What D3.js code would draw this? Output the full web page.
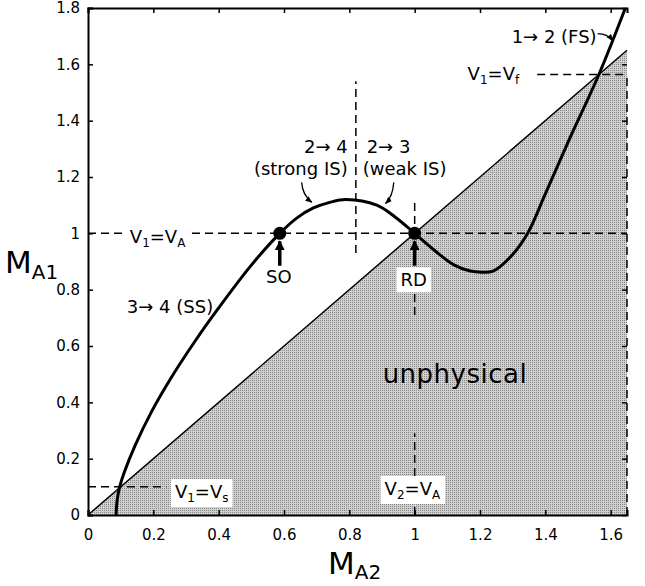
<!DOCTYPE html>
<html>
<head>
<meta charset="utf-8">
<script src="https://cdn.jsdelivr.net/npm/d3@7"></script>
<style>
  body { margin: 0; background: #fff; }
  svg text { font-family: "DejaVu Sans", sans-serif; fill: #000; }
</style>
</head>
<body>
<svg id="chart" width="645" height="586"></svg>
<script>
// shock curve M_A1 vs M_A2
var curveX = [0.086, 0.089, 0.097, 0.11, 0.144, 0.195, 0.256, 0.327, 0.40, 0.50, 0.587, 0.64,
              0.69, 0.74, 0.79, 0.884, 0.94, 1.0, 1.06, 1.12, 1.17, 1.205, 1.24, 1.30, 1.346,
              1.40, 1.47, 1.564, 1.645];
var curveY = [0, 0.05, 0.10, 0.148, 0.246, 0.368, 0.49, 0.616, 0.735, 0.887, 1.0, 1.055,
              1.09, 1.11, 1.12, 1.10, 1.058, 1.0, 0.94, 0.888, 0.866, 0.862, 0.866, 0.925, 1.0,
              1.14, 1.325, 1.564, 1.80];

// unphysical region lies under M_A1 = M_A2
var diagX = [0, 1.65];

var xTicks = [0, 0.2, 0.4, 0.6, 0.8, 1, 1.2, 1.4, 1.6];
var yTicks = [0, 0.2, 0.4, 0.6, 0.8, 1, 1.2, 1.4, 1.6, 1.8];

var points = [{name: "SO", x: 0.587, y: 1}, {name: "RD", x: 1, y: 1}];
var vSlow = 0.1, vFast = 1.564, vAlf = 1, isSplit = 0.82;

var margin = {top: 8, right: 18, bottom: 71, left: 88},
    width = 645 - margin.left - margin.right,
    height = 586 - margin.top - margin.bottom;

var svg = d3.select("#chart"),
    g = svg.append("g").attr("transform", "translate(" + margin.left + "," + margin.top + ")");

var x = d3.scaleLinear().domain([0, 1.65]).range([0, width]);
var y = d3.scaleLinear().domain([0, 1.8]).range([height, 0]);

var defs = svg.append("defs");
var pat = defs.append("pattern").attr("id", "dots")
  .attr("width", 2).attr("height", 2).attr("patternUnits", "userSpaceOnUse");
pat.append("rect").attr("width", 2).attr("height", 2).attr("fill", "#d0d0d0");
pat.append("rect").attr("width", 1).attr("height", 1).attr("fill", "#868686");

defs.append("clipPath").attr("id", "plot")
  .append("rect").attr("width", width).attr("height", height);

defs.append("marker").attr("id", "head")
  .attr("viewBox", "0 0 10 10").attr("refX", 9).attr("refY", 5)
  .attr("markerWidth", 10).attr("markerHeight", 10).attr("markerUnits", "userSpaceOnUse")
  .attr("orient", "auto")
  .append("path").attr("d", "M0,0L10,5L0,10z");

defs.append("marker").attr("id", "small")
  .attr("viewBox", "0 0 10 10").attr("refX", 9).attr("refY", 5)
  .attr("markerWidth", 7).attr("markerHeight", 7).attr("markerUnits", "userSpaceOnUse")
  .attr("orient", "auto")
  .append("path").attr("d", "M0,1L10,5L0,9z");

// shaded unphysical area
g.append("path")
  .datum(diagX)
  .attr("fill", "url(#dots)")
  .attr("d", d3.area().x(function(d) { return x(d); }).y0(y(0)).y1(function(d) { return y(d); }));

g.append("path")
  .datum(diagX)
  .attr("fill", "none").attr("stroke", "#000").attr("stroke-width", 1.5)
  .attr("d", d3.line().x(function(d) { return x(d); }).y(function(d) { return y(d); }));

// dashed reference lines
var dashes = [
  [[0, vAlf], [1.65, vAlf]],
  [[0, vSlow], [0.24, vSlow]],
  [[1.375, vFast], [1.65, vFast]],
  [[1.65, 0], [1.65, vFast]],
  [[isSplit, 0.93], [isSplit, 1.54]],
  [[vAlf, 0.71], [vAlf, 1.12]],
  [[vAlf, 0], [vAlf, 0.29]]
];
g.selectAll(".dash").data(dashes).enter().append("line")
  .attr("class", "dash")
  .attr("x1", function(d) { return x(d[0][0]); }).attr("y1", function(d) { return y(d[0][1]); })
  .attr("x2", function(d) { return x(d[1][0]); }).attr("y2", function(d) { return y(d[1][1]); })
  .attr("stroke", "#000").attr("stroke-width", 1.5).attr("stroke-dasharray", "8,5");

// axes, ticks pointing inward
var fmt = function(d) { return String(+d.toFixed(1)); };
var xAxis = g.append("g").attr("transform", "translate(0," + height + ")")
  .call(d3.axisBottom(x).tickValues(xTicks).tickFormat(fmt).tickSize(-5).tickPadding(14));
var yAxis = g.append("g")
  .call(d3.axisLeft(y).tickValues(yTicks).tickFormat(fmt).tickSize(-5).tickPadding(8));
var tAxis = g.append("g")
  .call(d3.axisTop(x).tickValues(xTicks).tickFormat("").tickSize(-5));
var rAxis = g.append("g").attr("transform", "translate(" + width + ",0)")
  .call(d3.axisRight(y).tickValues(yTicks).tickFormat("").tickSize(-5));

[xAxis, yAxis, tAxis].forEach(function(a) {
  a.select(".domain").attr("stroke-width", 2);
  a.selectAll(".tick line").attr("stroke-width", 1.5);
  a.selectAll("text").style("font-family", "DejaVu Sans").style("font-size", "15px");
});
rAxis.select(".domain").remove();
rAxis.selectAll(".tick line").attr("stroke-width", 1.5);

// the shock curve
g.append("path")
  .datum(d3.zip(curveX, curveY))
  .attr("clip-path", "url(#plot)")
  .attr("fill", "none").attr("stroke", "#000").attr("stroke-width", 3)
  .attr("d", d3.line()
    .x(function(d) { return x(d[0]); })
    .y(function(d) { return y(d[1]); })
    .curve(d3.curveCatmullRom.alpha(0.5)));

g.selectAll(".pt").data(points).enter().append("circle")
  .attr("cx", function(d) { return x(d.x); })
  .attr("cy", function(d) { return y(d.y); })
  .attr("r", 6.5).attr("fill", "#000");

// text with _{sub} subscripts
function rich(text, str, subSize, drop) {
  var off = 0;
  str.split(/(_\{[^}]*\})/).forEach(function(p) {
    if (!p) return;
    var isSub = p.charAt(0) == "_";
    var want = isSub ? drop : 0;
    text.append("tspan").attr("dy", want - off)
      .style("font-size", isSub ? subSize + "px" : null)
      .text(isSub ? p.slice(2, -1) : p);
    off = want;
  });
}

function label(str, lx, ly, opt) {
  opt = opt || {};
  var t = g.append("text")
    .attr("x", x(lx)).attr("y", y(ly))
    .attr("text-anchor", opt.anchor || "start")
    .style("font-size", (opt.size || 18) + "px");
  if (opt.spacing) t.style("letter-spacing", opt.spacing + "px");
  rich(t, str, opt.sub || 12, opt.drop || 4);
  if (opt.box) {
    var b = t.node().getBBox();
    g.insert("rect", function() { return t.node(); })
      .attr("x", b.x - 4).attr("y", b.y - 2)
      .attr("width", b.width + 8).attr("height", b.height + 4)
      .attr("fill", "#fff");
  }
  return t;
}

label("V_{1}=V_{A}", 0.128, 0.965, {box: true});
label("V_{1}=V_{s}", 0.266, 0.06, {box: true});
label("V_{2}=V_{A}", 0.908, 0.071, {box: true});
label("V_{1}=V_{f}", 1.162, 1.543, {box: true});
label("SO", 0.584, 0.823, {anchor: "middle"});
label("RD", 0.997, 0.812, {anchor: "middle", box: true});
label("3\u2192 4 (SS)", 0.119, 0.716);
label("2\u2192 4", 0.795, 1.284, {anchor: "end"});
label("(strong IS)", 0.795, 1.206, {anchor: "end"});
label("2\u2192 3", 0.853, 1.284);
label("(weak IS)", 0.841, 1.206);
label("1\u2192 2 (FS)", 1.557, 1.677, {anchor: "end"});
label("unphysical", 0.902, 0.468, {size: 26, spacing: 0.5});

// pointer arrows
g.selectAll(".up").data(points).enter().append("line")
  .attr("x1", function(d) { return x(d.x); }).attr("x2", function(d) { return x(d.x); })
  .attr("y1", y(0.885)).attr("y2", y(0.972))
  .attr("stroke", "#000").attr("stroke-width", 3.5)
  .attr("marker-end", "url(#head)");

var bent = [
  [[0.654, 1.181], [0.657, 1.135], [0.685, 1.110]],
  [[0.936, 1.181], [0.933, 1.131], [0.911, 1.106]],
  [[1.560, 1.709], [1.590, 1.709], [1.606, 1.684]]
];
g.selectAll(".bent").data(bent).enter().append("path")
  .attr("fill", "none").attr("stroke", "#000").attr("stroke-width", 1.3)
  .attr("marker-end", "url(#small)")
  .attr("d", function(d) {
    return "M" + x(d[0][0]) + "," + y(d[0][1]) +
      "Q" + x(d[1][0]) + "," + y(d[1][1]) + " " + x(d[2][0]) + "," + y(d[2][1]);
  });

// axis titles
var xt = svg.append("text").attr("x", 328).attr("y", 574).style("font-size", "31px");
rich(xt, "M_{A2}", 20, 5);
var yt = svg.append("text").attr("x", 5).attr("y", 273).style("font-size", "31px");
rich(yt, "M_{A1}", 20, 6);
</script>
</body>
</html>
